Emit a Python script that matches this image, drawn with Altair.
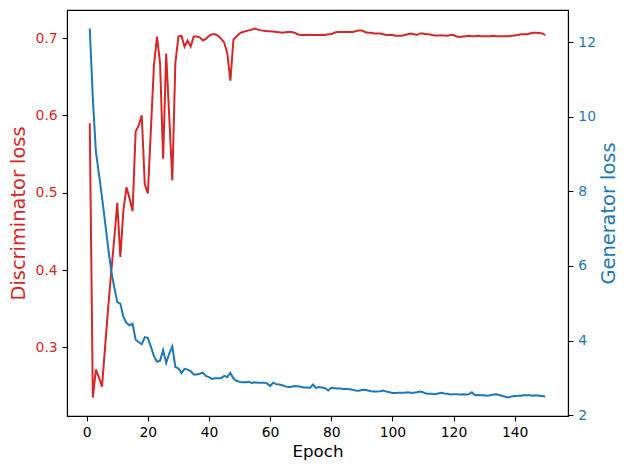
import altair as alt
import pandas as pd

epochs = list(range(1, 151))

disc_loss = [
    0.590, 0.235, 0.271, 0.261, 0.249, 0.300, 0.350, 0.397, 0.440, 0.487,
    0.417, 0.477, 0.507, 0.493, 0.476, 0.579, 0.587, 0.600, 0.511, 0.499,
    0.582, 0.665, 0.702, 0.667, 0.544, 0.680, 0.598, 0.516, 0.668, 0.702,
    0.703, 0.689, 0.697, 0.689, 0.702, 0.702, 0.701, 0.697, 0.699, 0.703,
    0.705, 0.705, 0.703, 0.699, 0.694, 0.680, 0.645, 0.698, 0.702, 0.706,
    0.708, 0.709, 0.710, 0.711, 0.7125, 0.711, 0.710, 0.7095, 0.709, 0.709,
    0.7085, 0.708, 0.7075, 0.707, 0.7075, 0.708, 0.708, 0.707, 0.705, 0.704,
    0.704, 0.704, 0.7045, 0.704, 0.704, 0.704, 0.7045, 0.704, 0.705, 0.705,
    0.707, 0.708, 0.708, 0.708, 0.708, 0.708, 0.708, 0.709, 0.710, 0.710,
    0.708, 0.707, 0.707, 0.706, 0.706, 0.706, 0.705, 0.704, 0.704, 0.704,
    0.703, 0.703, 0.703, 0.704, 0.705, 0.706, 0.705, 0.704, 0.706, 0.706,
    0.705, 0.705, 0.704, 0.7035, 0.7035, 0.7035, 0.7035, 0.703, 0.704, 0.704,
    0.702, 0.7015, 0.702, 0.7025, 0.703, 0.7025, 0.7025, 0.703, 0.7025, 0.7025,
    0.7025, 0.7025, 0.703, 0.7025, 0.7025, 0.7025, 0.7025, 0.7025, 0.703, 0.7035,
    0.704, 0.705, 0.705, 0.705, 0.706, 0.707, 0.707, 0.7065, 0.706, 0.704,
]

gen_loss = [
    12.37, 10.50, 9.07, 8.46, 7.84, 7.18, 6.50, 5.88, 5.43, 5.03,
    4.99, 4.63, 4.47, 4.41, 4.45, 4.02, 3.96, 3.90, 4.09, 4.07,
    3.83, 3.58, 3.43, 3.46, 3.74, 3.40, 3.65, 3.84, 3.29, 3.25,
    3.13, 3.24, 3.22, 3.18, 3.09, 3.09, 3.11, 3.14, 3.05, 3.02,
    2.97, 2.99, 2.99, 2.99, 3.05, 3.02, 3.13, 2.98, 2.92, 2.89,
    2.88, 2.88, 2.89, 2.86, 2.88, 2.87, 2.87, 2.87, 2.85, 2.78,
    2.87, 2.83, 2.82, 2.80, 2.77, 2.75, 2.76, 2.78, 2.77, 2.76,
    2.74, 2.74, 2.73, 2.82, 2.73, 2.75, 2.74, 2.72, 2.66, 2.73,
    2.72, 2.71, 2.71, 2.70, 2.70, 2.69, 2.68, 2.66, 2.65, 2.67,
    2.68, 2.66, 2.64, 2.63, 2.63, 2.64, 2.66, 2.63, 2.61, 2.59,
    2.59, 2.60, 2.60, 2.60, 2.61, 2.60, 2.60, 2.61, 2.63, 2.61,
    2.58, 2.57, 2.57, 2.56, 2.58, 2.60, 2.58, 2.57, 2.55, 2.56,
    2.56, 2.55, 2.56, 2.55, 2.56, 2.61, 2.53, 2.54, 2.53, 2.53,
    2.52, 2.53, 2.55, 2.56, 2.54, 2.51, 2.49, 2.47, 2.50, 2.51,
    2.52, 2.52, 2.53, 2.53, 2.53, 2.52, 2.53, 2.52, 2.51, 2.50,
]

x_ticks = [0, 20, 40, 60, 80, 100, 120, 140]
disc_ticks = [0.3, 0.4, 0.5, 0.6, 0.7]
gen_ticks = [2, 4, 6, 8, 10, 12]

RED = "#d62728"
BLUE = "#1f77b4"
FONT = "DejaVu Sans"


def padded(vals):
    lo, hi = min(vals), max(vals)
    m = 0.05 * (hi - lo)
    return [lo - m, hi + m]


df = pd.DataFrame({"epoch": epochs, "disc": disc_loss, "gen": gen_loss})

common_axis = dict(
    labelFont=FONT, labelFontSize=13.9, titleFont=FONT, titleFontWeight="normal",
    tickColor="#000000", tickWidth=1.1, tickSize=4.9, labelPadding=4.9,
    domain=True, domainColor="#000000", domainWidth=1.1, grid=False,
)

x_enc = alt.X(
    "epoch:Q",
    scale=alt.Scale(domain=padded(epochs), nice=False, zero=False),
    axis=alt.Axis(values=x_ticks, title="Epoch", titleFontSize=16.7,
                  labelColor="#000000", titleColor="#000000", titlePadding=4,
                  **common_axis),
)

red = alt.Chart(df).mark_line(color=RED, strokeWidth=2).encode(
    x=x_enc,
    y=alt.Y(
        "disc:Q",
        scale=alt.Scale(domain=padded(disc_loss), nice=False, zero=False),
        axis=alt.Axis(orient="left", values=disc_ticks, format=".1f",
                      title="Discriminator loss", titleFontSize=19.4,
                      labelColor=RED, titleColor=RED, titlePadding=7,
                      **common_axis),
    ),
)

blue = alt.Chart(df).mark_line(color=BLUE, strokeWidth=2).encode(
    x=x_enc,
    y=alt.Y(
        "gen:Q",
        scale=alt.Scale(domain=padded(gen_loss), nice=False, zero=False),
        axis=alt.Axis(orient="right", values=gen_ticks, format="d",
                      title="Generator loss", titleFontSize=19.4,
                      titleAngle=270, titleBaseline="middle", titleAlign="center",
                      titleX=40, titleY=203,
                      labelColor=BLUE, titleColor=BLUE,
                      **common_axis),
    ),
)

chart = (
    alt.layer(red, blue)
    .resolve_scale(y="independent")
    .properties(
        width=501, height=406,
        padding={"left": 59, "top": 2, "right": 54, "bottom": 46},
        autosize=alt.AutoSizeParams(type="none"),
        background="white",
    )
    .configure_view(stroke="#000000", strokeWidth=1.1, strokeOpacity=1)
)

chart.save("out.html", embed_options={"renderer": "svg", "actions": False})
